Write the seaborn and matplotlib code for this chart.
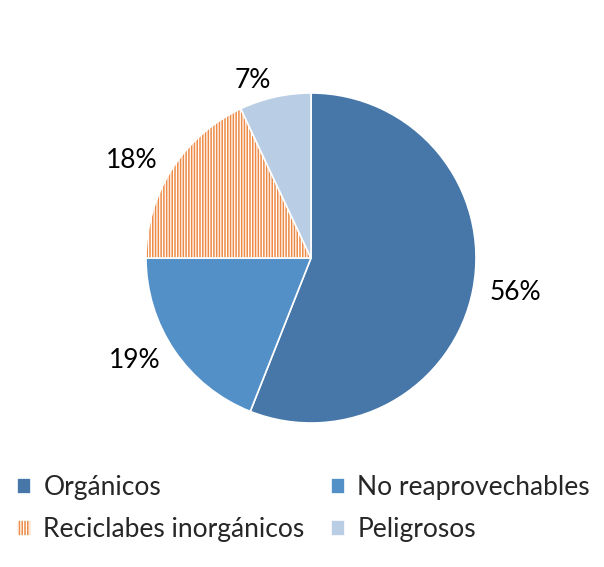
import matplotlib
matplotlib.use("Agg")
import matplotlib.pyplot as plt
import seaborn as sns

categories = ["Orgánicos", "No reaprovechables", "Reciclabes inorgánicos", "Peligrosos"]
shares = [56, 19, 18, 7]
colors = ["#4677A8", "#5490C8", "#ED8A45", "#B9CDE5"]
hatches = ["", "", "||||||", ""]

sns.set_theme(style="white")
plt.rcParams["font.family"] = ["Lato", "DejaVu Sans"]
plt.rcParams["hatch.color"] = "#F7C19C"
plt.rcParams["hatch.linewidth"] = 0.9

fig = plt.figure(figsize=(6.04, 5.67), dpi=100)
ax = fig.add_axes([(311 - 165) / 604, 1 - (258 + 165) / 567, 330 / 604, 330 / 567])

wedges, texts = ax.pie(
    shares, colors=colors, startangle=90, counterclock=False,
    labels=[f"{v}%" for v in shares], labeldistance=1.1,
    wedgeprops=dict(edgecolor="white", linewidth=1.2),
    textprops=dict(fontsize=19, color="black"),
)
for w, h in zip(wedges, hatches):
    if h:
        w.set_hatch(h)
ax.set_xlim(-1, 1)
ax.set_ylim(-1, 1)
ax.set_aspect("equal")

# legend fills columns first, so reorder to read row by row
order = [0, 2, 1, 3]
fig.legend([wedges[i] for i in order], [categories[i] for i in order],
           ncol=2, loc="upper left",
           bbox_to_anchor=(0.028, 1 - 475 / 567), frameon=False,
           borderpad=0, borderaxespad=0,
           fontsize=19, handlelength=0.55, handleheight=0.55,
           handletextpad=0.45, columnspacing=1.0, labelspacing=0.65)

fig.savefig("out.png", dpi=100)
